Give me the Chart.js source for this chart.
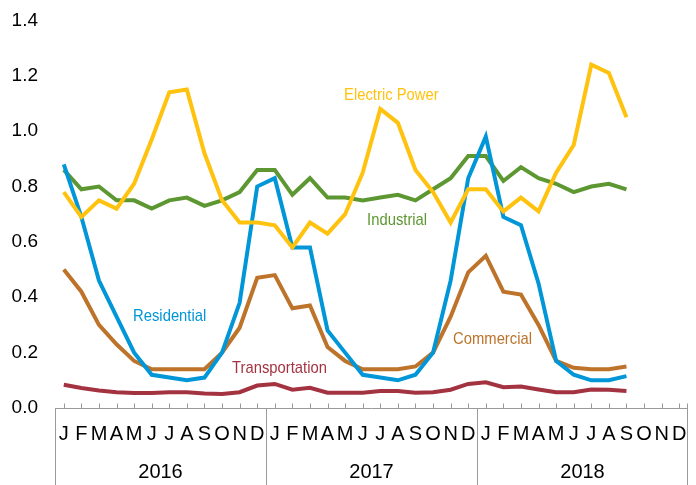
<!DOCTYPE html>
<html>
<head>
<meta charset="utf-8">
<script src="https://cdn.jsdelivr.net/npm/chart.js@4.4.1/dist/chart.umd.min.js"></script>
<style>
  html, body { margin: 0; padding: 0; background: #fff; }
</style>
</head>
<body>
<canvas id="chart" width="696" height="485"></canvas>
<script>
// monthly values, Jan 2016 .. Sep 2018
const YEARS = ['2016', '2017', '2018'];
const MONTH_LETTERS = ['J', 'F', 'M', 'A', 'M', 'J', 'J', 'A', 'S', 'O', 'N', 'D'];

const electricPower = [
  0.78, 0.69, 0.75, 0.72, 0.81, 0.97, 1.14, 1.15, 0.92, 0.75, 0.67, 0.67,
  0.66, 0.58, 0.67, 0.63, 0.70, 0.85, 1.08, 1.03, 0.86, 0.78, 0.67, 0.79,
  0.79, 0.71, 0.76, 0.71, 0.85, 0.95, 1.24, 1.21, 1.05
];
const residential = [
  0.88, 0.69, 0.46, 0.33, 0.20, 0.12, 0.11, 0.10, 0.11, 0.20, 0.38, 0.80,
  0.83, 0.58, 0.58, 0.28, 0.20, 0.12, 0.11, 0.10, 0.12, 0.20, 0.46, 0.83,
  0.98, 0.69, 0.66, 0.45, 0.17, 0.12, 0.10, 0.10, 0.115
];
const industrial = [
  0.86, 0.79, 0.80, 0.75, 0.75, 0.72, 0.75, 0.76, 0.73, 0.75, 0.78, 0.86,
  0.86, 0.77, 0.83, 0.76, 0.76, 0.75, 0.76, 0.77, 0.75, 0.79, 0.83, 0.91,
  0.91, 0.82, 0.87, 0.83, 0.81, 0.78, 0.80, 0.81, 0.79
];
const commercial = [
  0.50, 0.42, 0.30, 0.23, 0.17, 0.14, 0.14, 0.14, 0.14, 0.20, 0.29, 0.47,
  0.48, 0.36, 0.37, 0.22, 0.17, 0.14, 0.14, 0.14, 0.15, 0.20, 0.33, 0.49,
  0.55, 0.42, 0.41, 0.30, 0.17, 0.145, 0.14, 0.14, 0.15
];
const transportation = [
  0.084, 0.072, 0.063, 0.057, 0.054, 0.054, 0.057, 0.057, 0.052, 0.051, 0.057, 0.081,
  0.087, 0.066, 0.073, 0.055, 0.055, 0.055, 0.061, 0.061, 0.055, 0.057, 0.066, 0.087,
  0.093, 0.075, 0.078, 0.067, 0.057, 0.057, 0.067, 0.066, 0.061
];

const FONT = "'Liberation Sans', Arial, sans-serif";
const AXIS_COLOR = '#9a9a9a';
const COLORS = {
  electric: '#ffc20e',
  residential: '#0096d7',
  industrial: '#5d9732',
  commercial: '#bd732a',
  transportation: '#a33340'
};

// series names placed next to their lines: [text, month index, value, color]
const LABEL_SPOTS = [
  ['Electric Power', 15.94, 1.13, COLORS.electric],
  ['Industrial', 17.25, 0.678, COLORS.industrial],
  ['Residential', 3.94, 0.331, COLORS.residential],
  ['Transportation', 9.57, 0.143, COLORS.transportation],
  ['Commercial', 22.14, 0.248, COLORS.commercial]
];

const labels = [];
YEARS.forEach(() => MONTH_LETTERS.forEach(m => labels.push(m)));

const decorations = {
  id: 'decorations',
  afterDraw(chart) {
    const { ctx, scales: { x, y } } = chart;
    const base = Math.round(y.getPixelForValue(0)) + 0.5;
    const slot = (x.right - x.left) / labels.length;

    ctx.save();
    ctx.strokeStyle = AXIS_COLOR;
    ctx.lineWidth = 1;
    ctx.beginPath();
    ctx.moveTo(x.left, base);
    ctx.lineTo(x.right, base);
    for (let i = 0; i < labels.length; i++) {
      const px = Math.round(x.getPixelForValue(i)) + 0.5;
      ctx.moveTo(px, base - 5);
      ctx.lineTo(px, base);
    }
    const rightEdge = Math.round(x.right) - 0.5;
    ctx.moveTo(rightEdge, base - 5);
    ctx.lineTo(rightEdge, base);
    for (let k = 0; k <= YEARS.length; k++) {
      const px = Math.round(x.left + k * 12 * slot) + 0.5 - (k === YEARS.length ? 1 : 0);
      ctx.moveTo(px, base);
      ctx.lineTo(px, chart.height);
    }
    ctx.stroke();

    ctx.fillStyle = '#000';
    ctx.font = '20px ' + FONT;
    ctx.textAlign = 'center';
    ctx.textBaseline = 'middle';
    YEARS.forEach((yr, k) => {
      ctx.fillText(yr, x.left + (k * 12 + 6) * slot, 472);
    });

    ctx.font = '17px ' + FONT;
    ctx.textAlign = 'left';
    LABEL_SPOTS.forEach(([text, idx, val, color]) => {
      ctx.save();
      ctx.translate(x.getPixelForValue(idx), y.getPixelForValue(val));
      ctx.scale(0.87, 1);
      ctx.fillStyle = color;
      ctx.fillText(text, 0, 0);
      ctx.restore();
    });
    ctx.restore();
  }
};

const line = (data, color) => ({
  data,
  borderColor: color,
  borderWidth: 4,
  pointRadius: 0,
  tension: 0,
  fill: false
});

new Chart(document.getElementById('chart'), {
  type: 'line',
  data: {
    labels,
    datasets: [
      line(electricPower, COLORS.electric),
      line(residential, COLORS.residential),
      line(industrial, COLORS.industrial),
      line(commercial, COLORS.commercial),
      line(transportation, COLORS.transportation)
    ]
  },
  options: {
    responsive: false,
    animation: false,
    devicePixelRatio: 1,
    layout: { padding: { top: 13, right: 8, left: 0, bottom: 0 } },
    plugins: { legend: { display: false }, tooltip: { enabled: false } },
    scales: {
      x: {
        offset: true,
        grid: { display: false },
        border: { display: false },
        ticks: {
          autoSkip: false, maxRotation: 0, padding: 6,
          color: '#000', font: { family: FONT, size: 20 }
        },
        afterFit: s => { s.height = 77; }
      },
      y: {
        min: 0, max: 1.4,
        grid: { display: false },
        border: { display: false },
        ticks: {
          stepSize: 0.2, padding: 9,
          color: '#000', font: { family: FONT, size: 19 },
          callback: v => Number(v).toFixed(1)
        },
        afterFit: s => { s.width = 55; }
      }
    }
  },
  plugins: [decorations]
});
</script>
</body>
</html>
